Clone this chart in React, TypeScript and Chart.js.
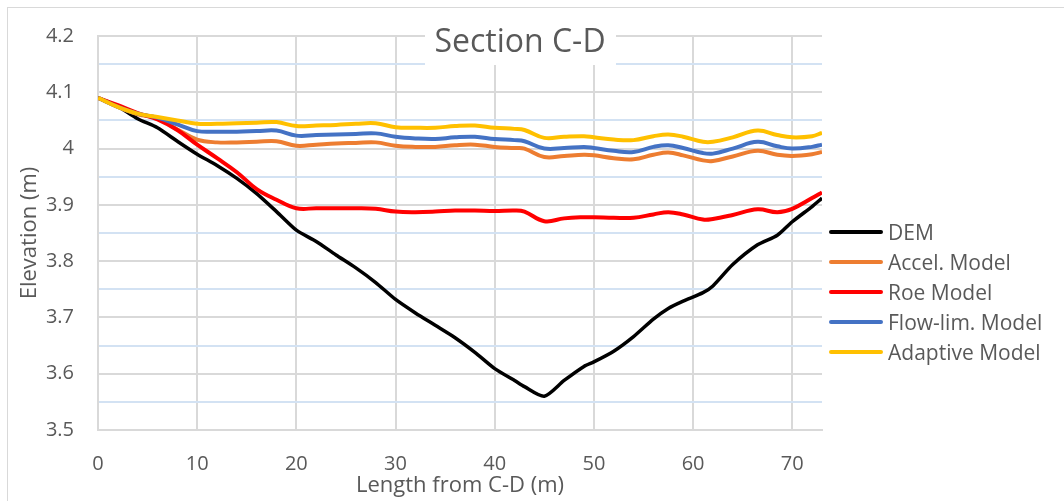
import React, { useEffect, useRef } from "react";
import { Chart, registerables } from "chart.js";

Chart.register(...registerables);

const lengths = [0, 2, 4, 6, 8, 10, 12, 14, 16, 18, 20, 22, 24, 26, 28, 30, 32, 34, 36, 38, 40, 42, 43, 45, 47, 49, 50, 52, 54, 56, 57.5, 59, 61, 62, 64, 66.5, 68.5, 70, 72, 73];

const dem = [4.09, 4.075, 4.053, 4.037, 4.013, 3.99, 3.97, 3.947, 3.92, 3.888, 3.855, 3.835, 3.811, 3.788, 3.762, 3.732, 3.708, 3.686, 3.664, 3.638, 3.609, 3.588, 3.577, 3.56, 3.588, 3.613, 3.621, 3.64, 3.666, 3.697, 3.716, 3.729, 3.744, 3.756, 3.794, 3.829, 3.846, 3.87, 3.897, 3.912];

const accel = [4.09, 4.074, 4.061, 4.054, 4.034, 4.016, 4.011, 4.011, 4.012, 4.013, 4.005, 4.007, 4.009, 4.01, 4.011, 4.005, 4.003, 4.003, 4.006, 4.007, 4.003, 4.001, 4.0, 3.985, 3.987, 3.989, 3.988, 3.983, 3.981, 3.989, 3.993, 3.988, 3.979, 3.978, 3.986, 3.996, 3.989, 3.987, 3.99, 3.994];

const roe = [4.09, 4.077, 4.063, 4.052, 4.033, 4.007, 3.983, 3.958, 3.928, 3.909, 3.894, 3.894, 3.894, 3.894, 3.893, 3.888, 3.887, 3.888, 3.89, 3.89, 3.889, 3.89, 3.888, 3.871, 3.876, 3.878, 3.878, 3.877, 3.877, 3.883, 3.887, 3.883, 3.874, 3.875, 3.882, 3.892, 3.887, 3.893, 3.912, 3.922];

const flowLim = [4.09, 4.074, 4.062, 4.055, 4.043, 4.031, 4.03, 4.03, 4.031, 4.032, 4.023, 4.024, 4.025, 4.026, 4.027, 4.021, 4.018, 4.017, 4.02, 4.021, 4.017, 4.015, 4.013, 4.0, 4.001, 4.003, 4.001, 3.996, 3.994, 4.003, 4.006, 4.001, 3.992, 3.991, 4.0, 4.012, 4.004, 4.0, 4.003, 4.007];

const adaptive = [4.09, 4.074, 4.062, 4.056, 4.05, 4.044, 4.044, 4.045, 4.046, 4.047, 4.04, 4.041, 4.042, 4.044, 4.045, 4.038, 4.037, 4.037, 4.04, 4.041, 4.037, 4.035, 4.033, 4.019, 4.021, 4.022, 4.02, 4.016, 4.015, 4.022, 4.025, 4.021, 4.012, 4.012, 4.02, 4.032, 4.024, 4.02, 4.022, 4.028];

const seriesNames = ["DEM", "Accel. Model", "Roe Model", "Flow-lim. Model", "Adaptive Model"];
const seriesColors = ["#000000", "#ED7D31", "#FF0000", "#4472C4", "#FFC000"];
const seriesValues = [dem, accel, roe, flowLim, adaptive];

const chartTitle = "Section C-D";
const xTitle = "Length from C-D (m)";
const yTitle = "Elevation (m)";

const FONT = "'Open Sans', sans-serif";
const TEXT = "#595959";
const GRID = "#d9d9d9";
const MINOR = "#d3e2f3";

const decorPlugin = {
  id: "decor",
  beforeDraw(chart: any) {
    const ctx = chart.ctx;
    ctx.save();
    ctx.fillStyle = "#ffffff";
    ctx.fillRect(0, 0, chart.width, chart.height);
    ctx.strokeStyle = GRID;
    ctx.lineWidth = 1;
    ctx.strokeRect(7.5, 7.5, chart.width + 20, chart.height + 20);
    ctx.restore();
  },
  afterDraw(chart: any) {
    const ctx = chart.ctx;
    ctx.save();
    // title with white box over grid
    ctx.fillStyle = "#ffffff";
    ctx.fillRect(425, 10, 191, 55);
    ctx.fillStyle = TEXT;
    ctx.font = `32px ${FONT}`;
    ctx.textAlign = "center";
    ctx.textBaseline = "alphabetic";
    ctx.fillText(chartTitle, 520, 52);
    // legend
    ctx.font = `21px ${FONT}`;
    ctx.textAlign = "left";
    seriesNames.forEach((name, i) => {
      const y = 232 + i * 30;
      ctx.strokeStyle = seriesColors[i];
      ctx.lineWidth = 4;
      ctx.lineCap = "round";
      ctx.beginPath();
      ctx.moveTo(831, y);
      ctx.lineTo(881, y);
      ctx.stroke();
      ctx.fillStyle = TEXT;
      ctx.fillText(name, 888, y + 7.5);
    });
    ctx.restore();
  },
};

export default function App() {
  const canvasRef = useRef<HTMLCanvasElement | null>(null);

  useEffect(() => {
    if (!canvasRef.current) return;
    const datasets = seriesNames.map((name, i) => ({
      label: name,
      data: lengths.map((x, j) => ({ x, y: seriesValues[i][j] })),
      borderColor: seriesColors[i],
      backgroundColor: seriesColors[i],
      borderWidth: i === 0 ? 3.5 : 4,
      pointRadius: 0,
      tension: i === 0 ? 0.25 : 0.4,
      fill: false,
      order: seriesNames.length - 1 - i,
    }));

    const chart = new Chart(canvasRef.current, {
      type: "line",
      data: { datasets },
      plugins: [decorPlugin],
      options: {
        animation: false,
        responsive: false,
        layout: { padding: { left: 17, top: 32, right: 242, bottom: 2 } },
        plugins: {
          legend: { display: false },
          title: { display: false },
          tooltip: { enabled: false },
        },
        scales: {
          x: {
            type: "linear",
            min: 0,
            max: 73,
            afterFit(scale: any) {
              scale.height = 69;
            },
            ticks: {
              stepSize: 10,
              includeBounds: false,
              color: TEXT,
              font: { family: FONT, size: 20 },
              padding: 22,
              maxRotation: 0,
            },
            grid: { color: GRID, lineWidth: 2, drawTicks: false },
            border: { color: GRID, width: 2 },
            title: {
              display: true,
              text: xTitle,
              color: TEXT,
              font: { family: FONT, size: 22 },
              padding: 0,
            },
          },
          y: {
            type: "linear",
            min: 3.5,
            max: 4.2,
            afterFit(scale: any) {
              scale.width = 81;
            },
            ticks: {
              stepSize: 0.05,
              autoSkip: false,
              color: TEXT,
              font: { family: FONT, size: 20 },
              padding: 24,
              callback: (v: any) => {
                const t = Number(v) * 10;
                if (Math.abs(t - Math.round(t)) < 1e-6) return String(Math.round(t) / 10);
                return "";
              },
            },
            grid: {
              drawTicks: false,
              lineWidth: 2,
              color: (c: any) => {
                const t = c.tick ? c.tick.value * 10 : 0;
                return Math.abs(t - Math.round(t)) < 1e-6 ? GRID : MINOR;
              },
            },
            border: { color: GRID, width: 2 },
            title: {
              display: true,
              text: yTitle,
              color: TEXT,
              font: { family: FONT, size: 22 },
              padding: 0,
            },
          },
        },
      },
    });
    return () => chart.destroy();
  }, []);

  return (
    <canvas
      ref={canvasRef}
      width={1064}
      height={501}
      style={{ position: "absolute", left: 0, top: 0, width: 1064, height: 501 }}
    />
  );
}
